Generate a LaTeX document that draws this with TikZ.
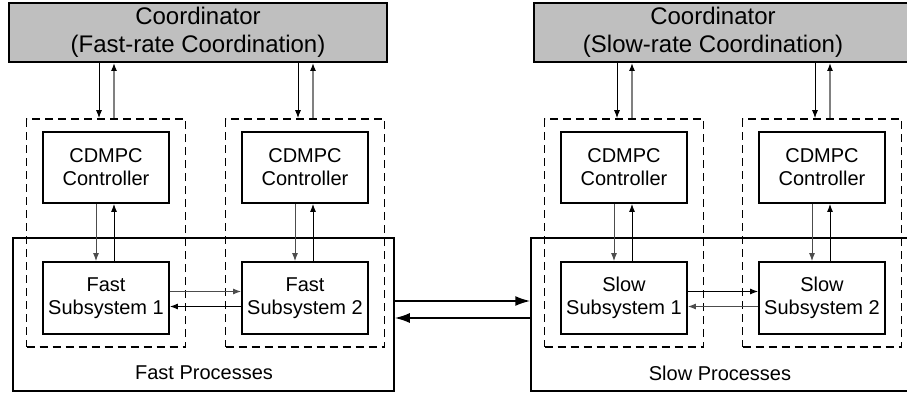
\documentclass[tikz,border=0pt]{standalone}
\usepackage{fontspec}
\setmainfont{Liberation Sans}
\usetikzlibrary{arrows.meta}

\begin{document}
\begin{tikzpicture}[x=1pt,y=-1pt,
  box/.style={draw, line width=1.8pt, minimum width=126pt, minimum height=71pt,
    inner sep=0pt, align=center, font=\fontsize{20}{23}\selectfont},
  coord/.style={draw, line width=1.8pt, fill=gray!50, minimum width=378pt,
    minimum height=59pt, inner sep=0pt},
  coordtext/.style={align=center, font=\fontsize{24}{28}\selectfont, inner sep=0pt},
  group/.style={draw, line width=1.6pt, dash pattern=on 8pt off 5pt,
    minimum width=159pt, minimum height=228pt, inner sep=0pt},
  plant/.style={draw, line width=1.5pt, minimum width=381pt, minimum height=153pt,
    inner sep=0pt},
  plantlabel/.style={font=\fontsize{20}{23}\selectfont, inner sep=0pt},
  link/.style={line width=1pt, -{Latex[length=8pt,width=6pt]}},
  glink/.style={line width=1.4pt, draw=gray, -{Latex[length=8pt,width=6pt,color=black]}},
  bigarrow/.style={line width=1.8pt, -{Latex[length=15pt,width=10pt]}}
]
\useasboundingbox (0,0) rectangle (907,396);
\clip (0,0) rectangle (907,396);

% coordinators
\node[coord] (coordL) at (198,32.5) {};
\node[coordtext] (coordLtext) at (198,32.5) {Coordinator\\(Fast-rate Coordination)};
\node[coord] (coordR) at (723,32.5) {};
\node[coordtext] (coordRtext) at (713,32.5) {Coordinator\\(Slow-rate Coordination)};

% dashed groups: one controller with its subsystem
\node[group] (g1) at (106,233) {};
\node[group] (g2) at (305,233) {};
\node[group] (g3) at (624,233) {};
\node[group] (g4) at (822,233) {};

% process boxes
\node[plant] (fast) at (203.5,314.5) {};
\node[plant] (slow) at (721.5,314.5) {};
\node[plantlabel] (fastlabel) at (204,373) {Fast Processes};
\node[plantlabel] (slowlabel) at (720,373) {Slow Processes};

% controllers
\node[box] (c1) at (106,167.5) {CDMPC\\Controller};
\node[box] (c2) at (305,167.5) {CDMPC\\Controller};
\node[box] (c3) at (624,167.5) {CDMPC\\Controller};
\node[box] (c4) at (822,167.5) {CDMPC\\Controller};

% subsystems
\node[box, minimum height=72pt] (s1) at (106,298) {Fast\\Subsystem 1};
\node[box, minimum height=72pt] (s2) at (305,298) {Fast\\Subsystem 2};
\node[box, minimum height=72pt] (s3) at (624,298) {Slow\\Subsystem 1};
\node[box, minimum height=72pt] (s4) at (822,298) {Slow\\Subsystem 2};

% coordinator <-> groups
\draw[link] ([xshift=-7pt]g1.north |- coordL.south) -- ([xshift=-7pt]g1.north);
\draw[glink] ([xshift=8pt]g1.north) -- ([xshift=8pt]g1.north |- coordL.south);
\draw[link] ([xshift=-7pt]g2.north |- coordL.south) -- ([xshift=-7pt]g2.north);
\draw[glink] ([xshift=8pt]g2.north) -- ([xshift=8pt]g2.north |- coordL.south);
\draw[link] ([xshift=-7pt]g3.north |- coordR.south) -- ([xshift=-7pt]g3.north);
\draw[glink] ([xshift=8pt]g3.north) -- ([xshift=8pt]g3.north |- coordR.south);
\draw[link] ([xshift=-7pt]g4.north |- coordR.south) -- ([xshift=-7pt]g4.north);
\draw[glink] ([xshift=8pt]g4.north) -- ([xshift=8pt]g4.north |- coordR.south);

% controller <-> subsystem
\foreach \i in {1,2,3,4}{
  \draw[link, draw=black!70] ([xshift=-10pt]c\i.south) -- ([xshift=-10pt]s\i.north);
  \draw[link] ([xshift=8pt]s\i.north) -- ([xshift=8pt]c\i.south);
}

% subsystem <-> subsystem
\draw[link, draw=black!70] ([yshift=6.5pt]s1.east) -- ([yshift=6.5pt]s2.west);
\draw[link] ([yshift=-8.5pt]s2.west) -- ([yshift=-8.5pt]s1.east);
\draw[link] ([yshift=6.5pt]s3.east) -- ([yshift=6.5pt]s4.west);
\draw[link, draw=black!70] ([yshift=-8.5pt]s4.west) -- ([yshift=-8.5pt]s3.east);

% fast processes <-> slow processes
\draw[bigarrow] ([yshift=13.5pt]fast.east) -- ([yshift=13.5pt]slow.west);
\draw[bigarrow] ([yshift=-3.5pt]slow.west) -- ([yshift=-3.5pt]fast.east);
\end{tikzpicture}
\end{document}
